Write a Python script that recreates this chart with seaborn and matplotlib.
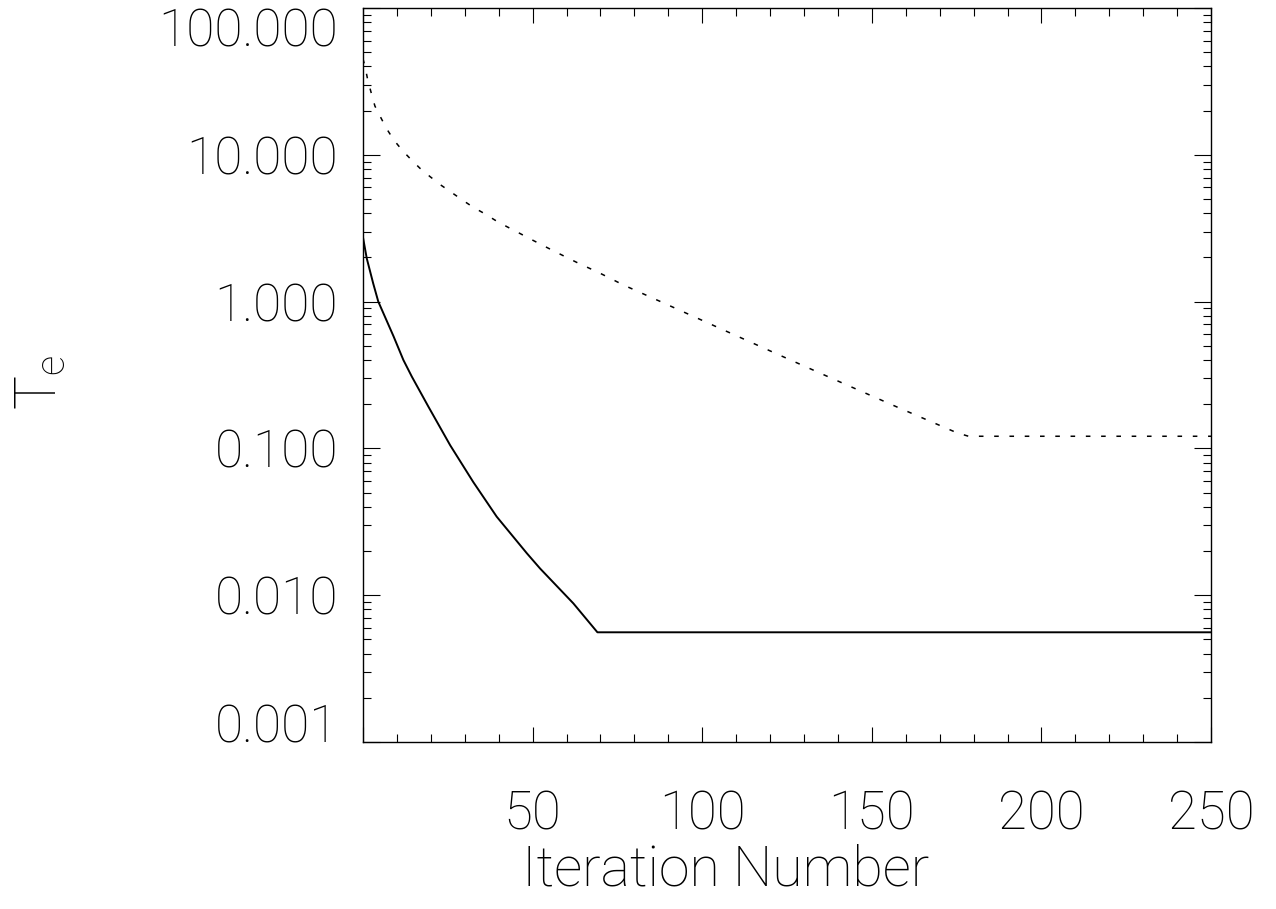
import matplotlib
matplotlib.use("Agg")
import matplotlib.pyplot as plt
from matplotlib.ticker import FixedLocator, FixedFormatter, LogLocator, NullFormatter, MultipleLocator
import numpy as np
import pandas as pd
import seaborn as sns

# Electron temperature versus iteration number
solid_iter = [0, 1.1, 3.0, 4.5, 9.0, 11.9, 14.4, 19.3, 25.7, 32.5, 39.4,
              48.3, 52.2, 62.0, 69.1, 250]
solid_te = [2.73, 1.97, 1.33, 1.0, 0.58, 0.40, 0.308, 0.192, 0.105, 0.059,
            0.0343, 0.0193, 0.0152, 0.0088, 0.00559, 0.00559]

dotted_iter = [0, 0.6, 1.4, 2.4, 3.5, 5.2, 7.0, 9.1, 11.6, 14.1, 16.8, 19.8, 22.9,
               26.2, 29.3, 32.5, 35.7, 38.9, 42.4, 45.8, 49.2, 56.1, 63.0, 69.9,
               76.7, 87.3, 104.8, 122.3, 139.8, 157.3, 175.0, 178.5, 250]
dotted_te = [45, 39.8, 32.3, 26.5, 21.5, 18.0, 15.0, 12.6, 10.7, 9.32, 8.09, 7.09,
             6.23, 5.52, 4.92, 4.39, 3.99, 3.59, 3.24, 2.95, 2.68, 2.22, 1.85, 1.56,
             1.30, 1.01, 0.664, 0.437, 0.289, 0.192, 0.128, 0.121, 0.121]

x_ticks = [0, 50, 100, 150, 200, 250]
x_tick_labels = ["", "50", "100", "150", "200", "250"]
y_ticks = [0.001, 0.01, 0.1, 1.0, 10.0, 100.0]
y_tick_labels = ["0.001", "0.010", "0.100", "1.000", "10.000", "100.000"]

sns.set_theme(style="ticks")
plt.rcParams["font.family"] = ["Roboto", "DejaVu Sans"]
plt.rcParams["font.weight"] = 100
plt.rcParams["axes.labelweight"] = 100
plt.rcParams["mathtext.default"] = "regular"
for key in ("text.color", "axes.labelcolor", "xtick.color", "ytick.color",
            "axes.edgecolor"):
    plt.rcParams[key] = "black"

fig = plt.figure(figsize=(12.76, 9.09), dpi=100)
ax = fig.add_axes([0.2845, 0.1837, 0.6646, 0.8075])

df_solid = pd.DataFrame({"iter": solid_iter, "te": solid_te})
df_dot = pd.DataFrame({"iter": dotted_iter, "te": dotted_te})
sns.lineplot(data=df_solid, x="iter", y="te", ax=ax, color="black", lw=1.4,
             estimator=None, sort=False, solid_joinstyle="round")
sns.lineplot(data=df_dot, x="iter", y="te", ax=ax, color="black", lw=1.1,
             estimator=None, sort=False, linestyle=(0, (3, 7)))

ax.set_yscale("log")
ax.set_xlim(0, 250)
ax.set_ylim(0.001, 100)

ax.xaxis.set_major_locator(FixedLocator(x_ticks))
ax.xaxis.set_major_formatter(FixedFormatter(x_tick_labels))
ax.xaxis.set_minor_locator(MultipleLocator(10))
ax.yaxis.set_major_locator(FixedLocator(y_ticks))
ax.yaxis.set_major_formatter(FixedFormatter(y_tick_labels))
ax.yaxis.set_minor_locator(LogLocator(base=10, subs=np.arange(2, 10)))
ax.yaxis.set_minor_formatter(NullFormatter())

ax.tick_params(axis="both", which="both", direction="in", top=True, right=True,
               color="black", width=0.8)
ax.tick_params(axis="x", which="major", length=11, pad=34, labelsize=38)
ax.tick_params(axis="x", which="minor", length=5.5)
ax.tick_params(axis="y", which="major", length=12.5, pad=18, labelsize=37)
ax.tick_params(axis="y", which="minor", length=6)

for s in ax.spines.values():
    s.set_linewidth(1.0)
    s.set_color("black")

ax.set_xlabel("Iteration Number", fontsize=40, fontweight=100)
ax.xaxis.set_label_coords(0.428, -0.138)
ax.set_ylabel("T$_e$", fontsize=41, fontweight=100)
ax.yaxis.set_label_coords(-0.348, 0.49)

# keep the end labels of the log axis inside the frame
fig.canvas.draw()
ylabels = ax.get_yticklabels()
ylabels[-1].set_verticalalignment("top")
ylabels[0].set_verticalalignment("baseline")

fig.savefig("out.png", dpi=100, facecolor="white")
